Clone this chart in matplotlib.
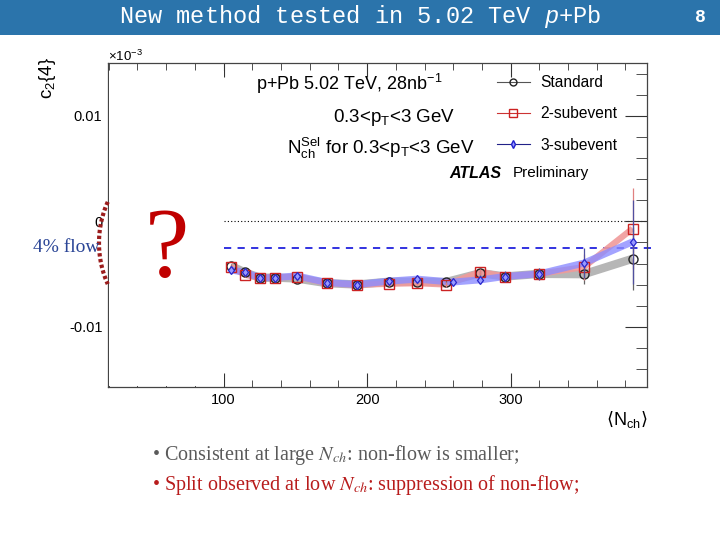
import numpy as np
import matplotlib
matplotlib.use("Agg")
import matplotlib.pyplot as plt
from matplotlib.patches import Rectangle
from matplotlib.lines import Line2D
from matplotlib.ticker import MultipleLocator

plt.rcParams['font.family'] = ['Liberation Sans', 'DejaVu Sans']
plt.rcParams['mathtext.fontset'] = 'custom'
plt.rcParams['mathtext.rm'] = 'Liberation Mono'
plt.rcParams['mathtext.it'] = 'Liberation Mono:italic'

# <Nch> bin centres
nch = [105, 115, 125.5, 136, 151, 172, 193, 215, 235, 255, 279, 296, 320, 351, 385]
nch_3sub = [105, 115, 125.5, 136, 151, 172, 193, 215, 235, 259.5, 279, 296, 320, 351, 385]

# c2{4} values
c24_std = [-0.00422, -0.00485, -0.00536, -0.00533, -0.00542, -0.00586, -0.00599, -0.00573,
           -0.00573, -0.00576, -0.00491, -0.00523, -0.00498, -0.00501, -0.00355]
c24_2sub = [-0.00431, -0.00507, -0.00536, -0.00533, -0.00523, -0.00586, -0.00602, -0.00592,
            -0.00586, -0.00599, -0.00479, -0.00523, -0.00498, -0.00434, -0.00069]
c24_3sub = [-0.00460, -0.00485, -0.00536, -0.00533, -0.00517, -0.00580, -0.00599, -0.00567,
            -0.00548, -0.00576, -0.00555, -0.00523, -0.00498, -0.00396, -0.00194]

err_std = [0.0002, 0.0002, 0.0002, 0.0002, 0.0002, 0.0002, 0.0002, 0.0002,
           0.0002, 0.0002, 0.0003, 0.0004, 0.0005, 0.0009, 0.0030]
err_2sub = [0.0002, 0.0002, 0.0002, 0.0002, 0.0002, 0.0002, 0.0002, 0.0002,
            0.0002, 0.0002, 0.0003, 0.0004, 0.0006, 0.0012, 0.0038]
err_3sub = [0.0002, 0.0002, 0.0002, 0.0002, 0.0002, 0.0002, 0.0002, 0.0002,
            0.0002, 0.0002, 0.0003, 0.0005, 0.0006, 0.0014, 0.0040]

flow_4pct = -0.00256
zero_level = 0.0

W, H = 720, 540


def px(x, y):
    return x / W, 1 - y / H


fig = plt.figure(figsize=(7.2, 5.4), dpi=100)

# title band
fig.add_artist(Rectangle((0, 1 - 35 / H), 1, 35 / H, transform=fig.transFigure,
                         facecolor='#2b74ab', edgecolor='none'))
fig.text(*px(360, 17), 'New method tested in 5.02 TeV $p$+Pb', color='white',
         family='Liberation Mono', fontsize=17, ha='center', va='center',
         math_fontfamily='custom')
fig.text(*px(700, 17), '8', color='white', family='Liberation Mono', fontsize=13,
         fontweight='bold', ha='center', va='center')

ax = fig.add_axes([108 / W, 1 - 387 / H, (647 - 108) / W, (387 - 63) / H])
ax.set_xlim(19.5, 395)
ax.set_ylim(-0.0157, 0.0150)

# bands
ax.plot(nch, c24_std, color='#b6b6b6', lw=6, solid_capstyle='butt', zorder=2)
ax.plot(nch, c24_2sub, color='#f09a9a', lw=4.5, alpha=0.9, solid_capstyle='butt', zorder=2.1)
ax.plot(nch_3sub, c24_3sub, color='#8c8cff', lw=5, alpha=0.8, solid_capstyle='butt', zorder=2.2)

# reference lines
ax.plot([100, 395], [zero_level, zero_level], color='black', lw=0.8, ls=(0, (1, 2)), zorder=1.5)
ax.plot([100, 398], [flow_4pct, flow_4pct], color='#2222dd', lw=1.3, ls=(0, (4, 3.5)),
        clip_on=False, zorder=1.5)

# points
ax.errorbar(nch, c24_std, yerr=err_std, fmt='o', ms=6.5, mfc='none', mec='#222222',
            mew=1.0, ecolor='#666666', elinewidth=0.9, capsize=0, zorder=3)
ax.errorbar(nch, c24_2sub, yerr=err_2sub, fmt='s', ms=6.5, mfc='none', mec='#cc2222',
            mew=1.0, ecolor='#e08080', elinewidth=0.9, capsize=0, zorder=3.1)
ax.errorbar(nch_3sub, c24_3sub, yerr=err_3sub, fmt='d', ms=4.5, mfc='#9a9aff', mec='#2828cc',
            mew=0.9, ecolor='#5050a0', elinewidth=0.9, capsize=0, zorder=3.2)

# cover box (slide masks the low-Nch part)
ax.add_patch(Rectangle((0.002, 0.004), (100.6 - 19.5) / (395 - 19.5) - 0.002, 0.972,
                       transform=ax.transAxes, facecolor='white', edgecolor='none',
                       zorder=2.6))

ax.set_xticks([100, 200, 300])
ax.xaxis.set_minor_locator(MultipleLocator(20))
ax.set_yticks([-0.01, 0, 0.01])
ax.set_yticklabels(['-0.01', '0', '0.01'])
ax.yaxis.set_minor_locator(MultipleLocator(0.002))
ax.tick_params(axis='x', which='both', direction='in', top=True, bottom=True,
               labelsize=10.5, pad=4, color='#333333')
ax.tick_params(axis='x', which='major', length=10)
ax.tick_params(axis='x', which='minor', length=5)
ax.tick_params(axis='y', which='both', direction='in', left=False, right=True,
               labelleft=True, labelsize=10.5, pad=4, color='#333333')
ax.tick_params(axis='y', which='major', length=16)
ax.tick_params(axis='y', which='minor', length=8)
for s in ax.spines.values():
    s.set_color('#444444')
    s.set_linewidth(0.9)

# legend
handles = [
    Line2D([], [], color='#555555', lw=0.8, marker='o', ms=5, mfc='none', mec='#222222'),
    Line2D([], [], color='#cc3333', lw=0.8, marker='s', ms=5.5, mfc='none', mec='#cc2222'),
    Line2D([], [], color='#222288', lw=0.8, marker='d', ms=4, mfc='#9a9aff', mec='#2020cc'),
]
fig.legend(handles, ['Standard', '2-subevent', '3-subevent'], loc='upper left',
           bbox_to_anchor=px(497, 75), frameon=False, fontsize=11.2, borderpad=0,
           borderaxespad=0, handlelength=2.1, handletextpad=0.7, labelspacing=1.05)

# annotations
fig.text(*px(256, 84), 'p+Pb 5.02 TeV, 28nb$^{\\mathregular{-1}}$', fontsize=13, va='center')
fig.text(*px(333, 118), '0.3<p$_{\\mathregular{T}}$<3 GeV', fontsize=13.5, va='center')
fig.text(*px(287, 148), 'N$_{\\mathregular{ch}}^{\\mathregular{Sel}}$ for 0.3<p$_{\\mathregular{T}}$<3 GeV',
         fontsize=13.5, va='center')
fig.text(*px(449, 173), 'ATLAS', fontsize=11.5, fontweight='bold', style='italic', va='center')
fig.text(*px(513, 173), 'Preliminary', fontsize=11, va='center')

fig.text(*px(108, 56), '\u00d710$^{\\mathregular{-3}}$', fontsize=9.5, va='center')
fig.text(*px(47, 78), 'c$_{\\mathregular{2}}${4}', fontsize=13.5, rotation=90,
         ha='center', va='center')
fig.text(*px(647, 420), '$\\langle$N$_{\\mathregular{ch}}$$\\rangle$', fontsize=13,
         ha='right', va='center', math_fontfamily='dejavusans')

fig.text(*px(33, 247), '4% flow', family='Liberation Serif', fontsize=14,
         color='#2a4596', va='center')
fig.text(*px(167, 252), '?', family='Liberation Serif', fontsize=72,
         color='#c00000', ha='center', va='center')

# dotted arc around the zero label
theta = np.radians(np.linspace(156, 204, 60))
arc_x = 200 + 101 * np.cos(theta)
arc_y = 243 - 101 * np.sin(theta)
fig.add_artist(Line2D(arc_x / W, 1 - arc_y / H, transform=fig.transFigure,
                      color='#9b1c1c', lw=3, ls=(0, (0.8, 0.6))))

fig.text(*px(152, 455), '\u2022 Consistent at large $N_{ch}$: non-flow is smaller;',
         family='Liberation Serif', fontsize=14.5, color='#5a5a5a', va='center',
         math_fontfamily='stix')
fig.text(*px(152, 485), '\u2022 Split observed at low $N_{ch}$: suppression of non-flow;',
         family='Liberation Serif', fontsize=14.5, color='#b81c1c', va='center',
         math_fontfamily='stix')

fig.savefig('out.png', dpi=100)
